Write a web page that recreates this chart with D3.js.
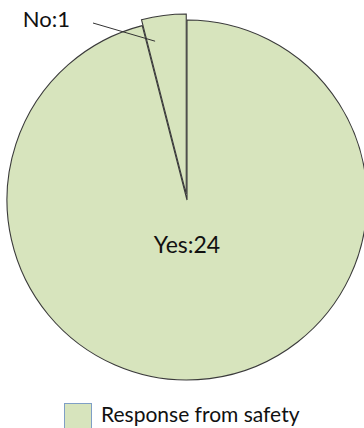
<!DOCTYPE html>
<html>
<head>
<meta charset="utf-8">
<script src="https://cdn.jsdelivr.net/npm/d3@7"></script>
<style>
  html, body { margin: 0; padding: 0; background: #fff; }
  svg { display: block; }
  text { font-family: Lato, "Open Sans", sans-serif; fill: #111; }
</style>
</head>
<body>
<svg id="chart" width="364" height="428"></svg>
<script>
// Survey answers shown as pie slices
const categories = ["Yes", "No"];
const values = [24, 1];
const seriesName = "Response from safety";

const cx = 187, cy = 200, R = 180;
const explode = 6;            // offset of the "No" slice
const fill = "#d7e4bd";
const stroke = "#3a3a3a";

const svg = d3.select("#chart");

const data = categories.map((c, i) => ({ cat: c, val: values[i] }));
const pie = d3.pie().sort(null).value(d => d.val).startAngle(0).endAngle(2 * Math.PI);
const arcs = pie(data);
const arc = d3.arc().innerRadius(0).outerRadius(R);

const g = svg.append("g").attr("transform", `translate(${cx},${cy})`);

function offsetOf(a) {
  if (a.data.cat !== "No") return [0, 0];
  const mid = (a.startAngle + a.endAngle) / 2;
  return [Math.sin(mid) * explode, -Math.cos(mid) * explode];
}

g.selectAll("path.slice")
  .data(arcs)
  .join("path")
  .attr("class", "slice")
  .attr("d", arc)
  .attr("transform", d => `translate(${offsetOf(d)})`)
  .attr("fill", fill)
  .attr("stroke", stroke)
  .attr("stroke-width", 1.1)
  .attr("stroke-linejoin", "miter");

// "Yes" label inside its slice
const yes = arcs[0];
g.append("text")
  .attr("x", 0)
  .attr("y", 53)
  .attr("text-anchor", "middle")
  .attr("font-size", 23)
  .text(`${yes.data.cat}:${yes.data.val}`);

// "No" label outside with a leader line into the slice
const no = arcs[1];
const [ox, oy] = offsetOf(no);
const ang = no.startAngle + 0.2 * (no.endAngle - no.startAngle);
const rr = 156;
const endX = cx + ox + Math.sin(ang) * rr;
const endY = cy + oy - Math.cos(ang) * rr;

svg.append("line")
  .attr("x1", 93).attr("y1", 23)
  .attr("x2", endX).attr("y2", endY)
  .attr("stroke", "#333")
  .attr("stroke-width", 1);

svg.append("text")
  .attr("x", 70)
  .attr("y", 27)
  .attr("text-anchor", "end")
  .attr("font-size", 22)
  .text(`${no.data.cat}:${no.data.val}`);

// Legend
const lg = svg.append("g").attr("transform", "translate(64,403)");
lg.append("rect")
  .attr("x", 0.5).attr("y", 0.5)
  .attr("width", 27).attr("height", 26)
  .attr("fill", fill)
  .attr("stroke", "#7f9fc6")
  .attr("stroke-width", 1);
lg.append("text")
  .attr("x", 37)
  .attr("y", 19)
  .attr("font-size", 21)
  .text(seriesName);
</script>
</body>
</html>
